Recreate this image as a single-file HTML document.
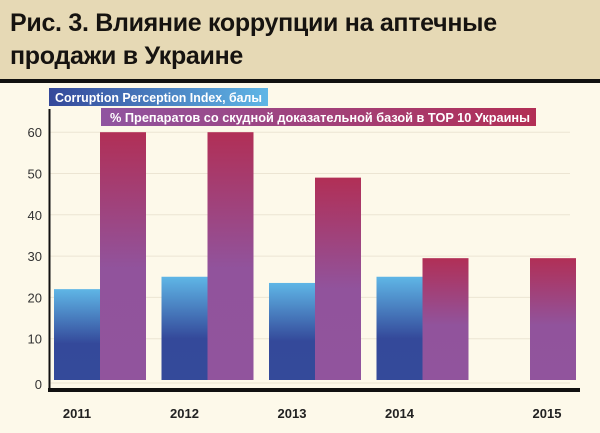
<!DOCTYPE html>
<html><head><meta charset="utf-8"><style>
body{margin:0;width:600px;height:433px;background:#fdf9ea;overflow:hidden;font-family:"Liberation Sans","Noto Sans CJK SC",sans-serif}
#hdr{position:absolute;left:0;top:0;width:600px;height:79px;background:#e6d9b5;border-bottom:4px solid #111}
#hdr div{position:absolute;left:10px;top:7px;font-size:25px;font-weight:bold;line-height:33px;color:#161310;letter-spacing:-0.3px}
svg{position:absolute;left:0;top:0}
</style></head><body>
<div id="hdr"><div>Рис. 3. Влияние коррупции на аптечные<br>продажи в Украине</div></div>
<svg id="ch" width="600" height="433">
<defs>
<linearGradient id="gb" x1="0" y1="0" x2="0" y2="1"><stop offset="0" stop-color="#5fb6e6"/><stop offset="0.6" stop-color="#34499a"/><stop offset="1" stop-color="#344a9a"/></linearGradient>
<linearGradient id="gr" x1="0" y1="0" x2="0" y2="1"><stop offset="0" stop-color="#b12f56"/><stop offset="0.55" stop-color="#91539c"/><stop offset="1" stop-color="#91549d"/></linearGradient>
<linearGradient id="lb" x1="0" y1="0" x2="1" y2="0"><stop offset="0" stop-color="#34489a"/><stop offset="1" stop-color="#5fb6e6"/></linearGradient>
<linearGradient id="lr" x1="0" y1="0" x2="1" y2="0"><stop offset="0" stop-color="#9054a0"/><stop offset="1" stop-color="#b22f55"/></linearGradient>
</defs>
</svg>
<script>
const years=["2011","2012","2013","2014","2015"];
const cpi=[22,25,23.5,25,null];
const pct=[60,60,49,29.5,29.5];
const ticks=[0,10,20,30,40,50,60];
const svg=document.getElementById('ch');
const NS='http://www.w3.org/2000/svg';
const y0=380,k=4.13;
const yv=v=>y0-v*k;
const xg=i=>54+i*107.5;
function mk(t,a){const e=document.createElementNS(NS,t);for(const n in a)e.setAttribute(n,a[n]);svg.appendChild(e);return e;}
ticks.forEach(t=>{
 const g=mk('line',{x1:50,x2:570,y1:yv(t)+(t===0?3:0),y2:yv(t)+(t===0?3:0),stroke:'#ece5d3','stroke-width':1});
 
 
 const l=mk('text',{x:42,y:yv(t)+5+(t===0?4:0),'text-anchor':'end','font-size':13,fill:'#333'});
 l.textContent=t;
 
 
});
years.forEach((yr,i)=>{
 if(cpi[i]!=null){const b=mk('rect',{x:xg(i),y:yv(cpi[i]),width:46,height:y0-yv(cpi[i]),fill:'url(#gb)'});
 
 }
 const r=mk('rect',{x:xg(i)+46,y:yv(pct[i]),width:46,height:y0-yv(pct[i]),fill:'url(#gr)'});
 
 
 const t=mk('text',{x:xg(i)+23+(i===4?40:0),y:418,'text-anchor':'middle','font-size':13,'font-weight':'bold',fill:'#222'});
 t.textContent=yr;
 
 
});
const ya=mk('line',{x1:49.5,x2:49.5,y1:109,y2:392,stroke:'#111','stroke-width':2});


const xa=mk('line',{x1:48,x2:580,y1:390,y2:390,stroke:'#111','stroke-width':4});


const l1=mk('rect',{x:49,y:88,width:219,height:18,fill:'url(#lb)'});


const t1=mk('text',{x:55,y:102,'font-size':13,'font-weight':'bold',fill:'#fff',textLength:207,lengthAdjust:'spacingAndGlyphs'});
t1.textContent='Corruption Perception Index, балы';


const l2=mk('rect',{x:101,y:108,width:435,height:18,fill:'url(#lr)'});


const t2=mk('text',{x:110,y:122,'font-size':13,'font-weight':'bold',fill:'#fff',textLength:420,lengthAdjust:'spacingAndGlyphs'});
t2.textContent='% Препаратов со скудной доказательной базой в TOP 10 Украины';


</script>
</body></html>
